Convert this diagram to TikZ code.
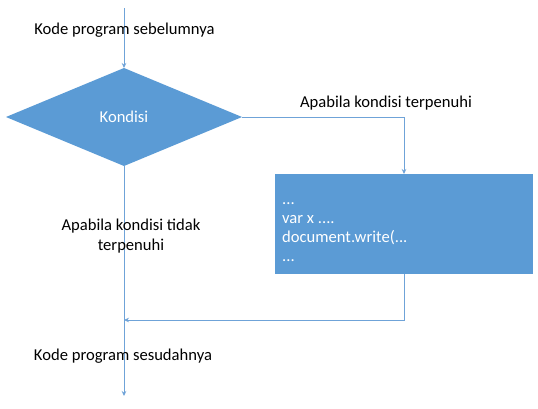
\documentclass[tikz,border=0pt]{standalone}
\usepackage{fontspec}
\setmainfont{Carlito}
\usetikzlibrary{shapes.geometric,arrows.meta}
\definecolor{blu}{HTML}{5B9BD5}
\definecolor{lineblu}{HTML}{6FA3D8}
\begin{document}
\begin{tikzpicture}[x=1pt,y=-1pt,
  conn/.style={draw=lineblu,line width=0.8pt},
  tip/.style={-{Stealth[length=5pt,width=4.5pt]}},
  lbl/.style={font=\fontsize{16.6}{19.5}\selectfont, inner sep=0pt, align=center},
  decision/.style={diamond, fill=blu, draw=none, aspect=2.41, minimum width=236pt, minimum height=98pt, inner sep=0pt, outer sep=0pt, text=white, font=\fontsize{16.6}{19.5}\selectfont},
  codebox/.style={rectangle, fill=blu, draw=none, minimum width=258pt, minimum height=100pt, inner sep=0pt, outer sep=0pt},
  codetext/.style={inner sep=0pt, align=left, text=white, font=\fontsize{16.6}{19.2}\selectfont}]
\useasboundingbox (0,0) rectangle (538,408);
\fill[white] (0,0) rectangle (538,408);
\node[decision] (dia) at (124,117) {Kondisi};
\node[codebox] (box) at (404,224) {};
\node[codetext, anchor=west] (code) at (282,232) {...\\var x ....\\document.write(...\\...};
\coordinate (top) at (124,8);
\coordinate (join) at (124,320);
\coordinate (bot) at (124,396);
\draw[conn,tip] (top) -- (dia.north);
\draw[conn,tip] (dia.east) -| (box.north);
\draw[conn,tip] (box.south) |- (join);
\draw[conn,tip] (dia.south) -- (bot);
\node[lbl] (l1) at (124.5,30) {Kode program sebelumnya};
\node[lbl] (l2) at (386,103) {Apabila kondisi terpenuhi};
\node[lbl] (l3) at (131,236) {Apabila kondisi tidak\\terpenuhi};
\node[lbl] (l4) at (123,356) {Kode program sesudahnya};
\end{tikzpicture}
\end{document}
